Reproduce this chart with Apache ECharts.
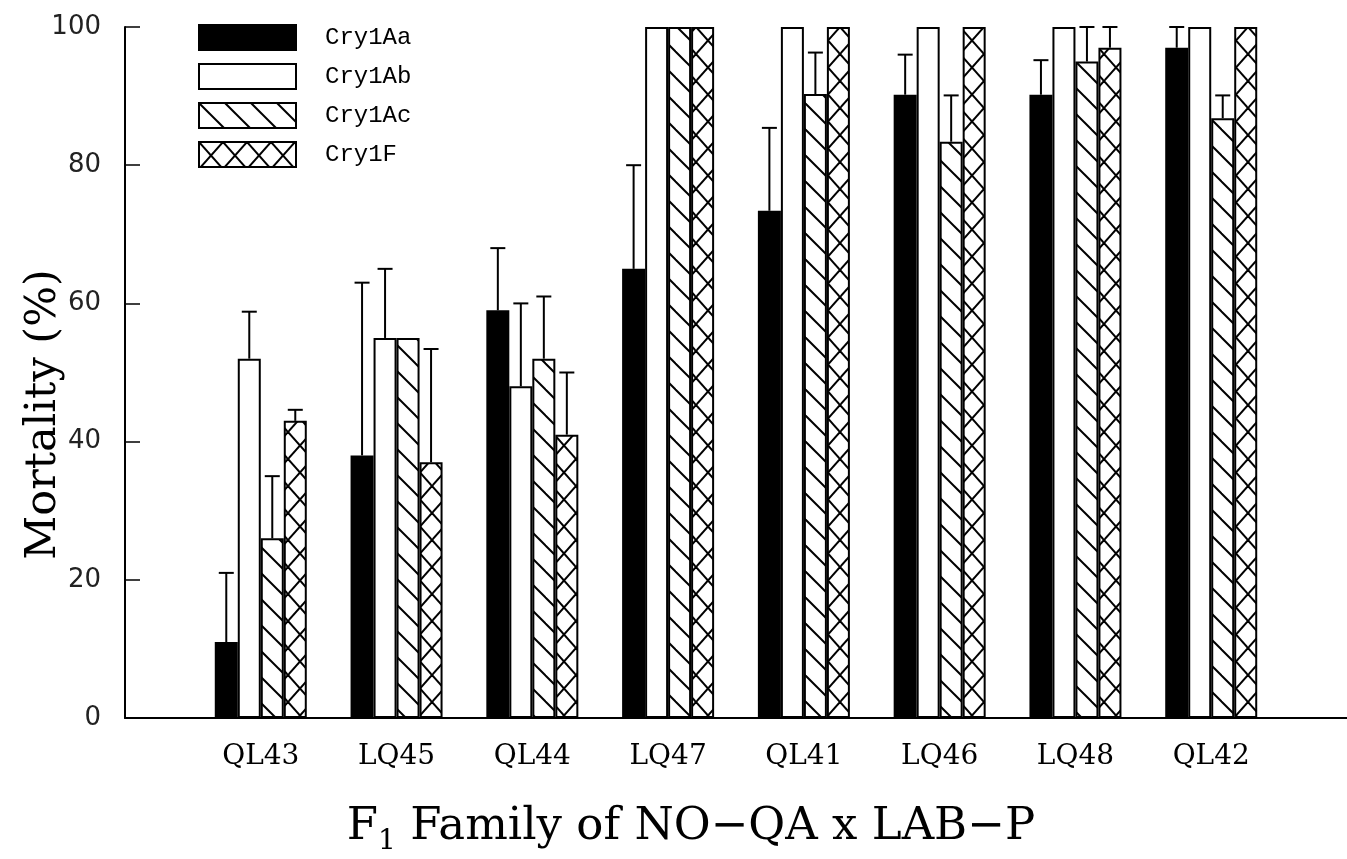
<!DOCTYPE html>
<html>
<head>
<meta charset="utf-8">
<script src="https://cdn.jsdelivr.net/npm/echarts@6/dist/echarts.min.js"></script>
<style>
html,body{margin:0;padding:0;background:#fff;}
#chart{width:1347px;height:859px;}
</style>
</head>
<body>
<div id="chart"></div>
<script>
// ---- data ----
const families = ['QL43','LQ45','QL44','LQ47','QL41','LQ46','LQ48','QL42'];
const seriesNames = ['Cry1Aa','Cry1Ab','Cry1Ac','Cry1F'];
const cry1Aa = [11, 38, 59, 65, 73.4, 90.2, 90.2, 97];
const cry1Ab = [52, 55, 48, 100, 100, 100, 100, 100];
const cry1Ac = [26, 55, 52, 100, 90.3, 83.4, 95, 86.8];
const cry1F  = [43, 37, 41, 100, 100, 100, 97, 100];
const errAa = [10, 25, 9, 15, 12, 5.8, 5, 3];
const errAb = [6.8, 10, 12, 0, 0, 0, 0, 0];
const errAc = [9, 0, 9, 0, 6, 6.7, 5, 3.3];
const errF  = [1.6, 16.4, 9, 0, 0, 0, 3, 0];
const yTicks = [0, 20, 40, 60, 80, 100];

// ---- styling helpers ----
function hatchPattern(w, h, cross){
  const c = document.createElement('canvas');
  c.width = w; c.height = h;
  const ctx = c.getContext('2d');
  ctx.fillStyle = '#fff'; ctx.fillRect(0,0,w,h);
  ctx.strokeStyle = '#000'; ctx.lineWidth = 2;
  for (let k=-1;k<=1;k++){
    ctx.beginPath(); ctx.moveTo(-w, -h + k*h); ctx.lineTo(2*w, 2*h + k*h); ctx.stroke();
    if (cross){
      ctx.beginPath(); ctx.moveTo(-w, 2*h + k*h); ctx.lineTo(2*w, -h + k*h); ctx.stroke();
    }
  }
  return {image: c, repeat: 'repeat'};
}
const fills = ['#000', '#fff', hatchPattern(26,26,false), hatchPattern(24,27,true)];
const values = [cry1Aa, cry1Ab, cry1Ac, cry1F];
const errs = [errAa, errAb, errAc, errF];
const BAR_W = 23;
const offsets = [-1.5*BAR_W, -0.5*BAR_W, 0.5*BAR_W, 1.5*BAR_W];

const cats = [''].concat(families, ['']);
const pad = arr => ['-'].concat(arr, ['-']);

const barSeries = seriesNames.map((n,i)=>({
  name: n, type: 'bar', data: pad(values[i]),
  barWidth: BAR_W, barGap: '0%',
  itemStyle: {color: fills[i], borderColor: '#000', borderWidth: 2},
  emphasis: {disabled: true}, z: 2
}));

const errData = [];
values.forEach((v,s)=>{ v.forEach((val,j)=>{ if (errs[s][j] > 0) errData.push([j+1, val, errs[s][j], s]); }); });

const chart = echarts.init(document.getElementById('chart'), null, {renderer:'canvas'});
chart.setOption({
  animation: false,
  backgroundColor: '#fff',
  grid: {left: 125, right: 0, top: 27, bottom: 141, containLabel: false, outerBoundsMode: 'none'},
  legend: {
    data: seriesNames, orient: 'vertical', left: 198, top: 24, padding: 0,
    icon: 'rect', itemWidth: 97, itemHeight: 25, itemGap: 12,
    selectedMode: false,
    textStyle: {fontFamily: 'Liberation Mono', fontSize: 24, color: '#000', padding: [0,0,0,24]}
  },
  xAxis: {
    type: 'category', data: cats, boundaryGap: false,
    axisLine: {lineStyle: {color: '#000', width: 2}},
    axisTick: {show: false},
    axisLabel: {fontFamily: 'DejaVu Serif', fontSize: 28, color: '#000', margin: 25, interval: 0},
    name: 'F{sub|1} Family of NO\u2212QA x LAB\u2212P',
    nameLocation: 'middle', nameGap: 80, nameMoveOverlap: false,
    nameTextStyle: {fontFamily: 'DejaVu Serif', fontSize: 45, color: '#000', padding: [0, 90, 0, 0],
      rich: {sub: {fontFamily: 'DejaVu Serif', fontSize: 28, verticalAlign: 'bottom', padding: [30,0,0,0]}}}
  },
  yAxis: {
    type: 'value', min: 0, max: 100, interval: 20,
    axisLine: {show: true, lineStyle: {color: '#000', width: 2}},
    axisTick: {show: true, inside: true, length: 15, lineStyle: {color: '#000', width: 1.5}},
    splitLine: {show: false},
    axisLabel: {fontFamily: 'DejaVu Sans', fontSize: 26, color: '#222', margin: 24,
      formatter: v => yTicks.includes(v) ? String(v) : ''},
    name: 'Mortality (%)', nameLocation: 'middle', nameGap: 60, nameMoveOverlap: false,
    nameTextStyle: {fontFamily: 'DejaVu Serif', fontSize: 43, color: '#000', padding: [0, 84, 0, 0]}
  },
  series: barSeries.concat([{
    type: 'custom', name: 'err', data: errData, z: 3, clip: false,
    encode: {x: 0, y: 1},
    renderItem: function(params, api){
      const ci = api.value(0), v = api.value(1), e = api.value(2), s = api.value(3);
      const x = api.coord([ci, 0])[0] + offsets[s];
      const yb = api.coord([ci, v])[1];
      const yt = api.coord([ci, v + e])[1];
      return {type: 'group', children: [
        {type: 'line', shape: {x1: x, y1: yb, x2: x, y2: yt}, style: {stroke: '#000', lineWidth: 2}},
        {type: 'line', shape: {x1: x-7.5, y1: yt, x2: x+7.5, y2: yt}, style: {stroke: '#000', lineWidth: 2}}
      ]};
    }
  }])
});
</script>
</body>
</html>
